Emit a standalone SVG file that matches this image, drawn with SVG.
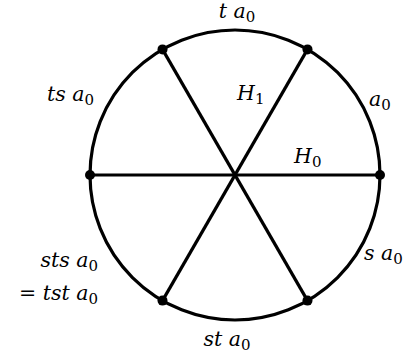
<svg xmlns="http://www.w3.org/2000/svg" width="405" height="361" viewBox="0 0 405 361">
<style>
.ln{stroke:#000;stroke-width:3.2;fill:none}
.dot{fill:#000}
.lb{font-family:'DejaVu Serif',serif;font-size:20.5px;fill:#000}
.i{font-style:italic}
.sub{font-size:15px;font-style:normal}
.e{text-anchor:end}
.m{text-anchor:middle}
</style>
<rect width="405" height="361" fill="#fff"/>
<g id="circle"><circle class="ln" cx="235" cy="175" r="145"/></g>
<g id="connectors">
<line class="ln" x1="90" y1="175" x2="380" y2="175"/>
<line class="ln" x1="162.5" y1="49.4" x2="307.5" y2="300.6"/>
<line class="ln" x1="307.5" y1="49.4" x2="162.5" y2="300.6"/>
</g>
<g id="vertices">
<circle class="dot" cx="380" cy="175" r="5"/>
<circle class="dot" cx="90" cy="175" r="5"/>
<circle class="dot" cx="162.5" cy="49.4" r="5"/>
<circle class="dot" cx="307.5" cy="49.4" r="5"/>
<circle class="dot" cx="162.5" cy="300.6" r="5"/>
<circle class="dot" cx="307.5" cy="300.6" r="5"/>
</g>
<g id="labels">
<text class="lb m" x="237" y="18"><tspan class="i">t a</tspan><tspan class="sub" dy="4">0</tspan></text>
<text class="lb e" x="94" y="101"><tspan class="i">ts a</tspan><tspan class="sub" dy="4">0</tspan></text>
<text class="lb" x="237" y="100"><tspan class="i">H</tspan><tspan class="sub" dy="4">1</tspan></text>
<text class="lb" x="369" y="106"><tspan class="i">a</tspan><tspan class="sub" dy="4">0</tspan></text>
<text class="lb" x="294" y="163"><tspan class="i">H</tspan><tspan class="sub" dy="4">0</tspan></text>
<text class="lb" x="364" y="260"><tspan class="i">s a</tspan><tspan class="sub" dy="4">0</tspan></text>
<text class="lb e" x="98" y="267"><tspan class="i">sts a</tspan><tspan class="sub" dy="4">0</tspan></text>
<text class="lb e" x="98" y="300">= <tspan class="i">tst a</tspan><tspan class="sub" dy="4">0</tspan></text>
<text class="lb m" x="227" y="346"><tspan class="i">st a</tspan><tspan class="sub" dy="4">0</tspan></text>
</g>
</svg>
